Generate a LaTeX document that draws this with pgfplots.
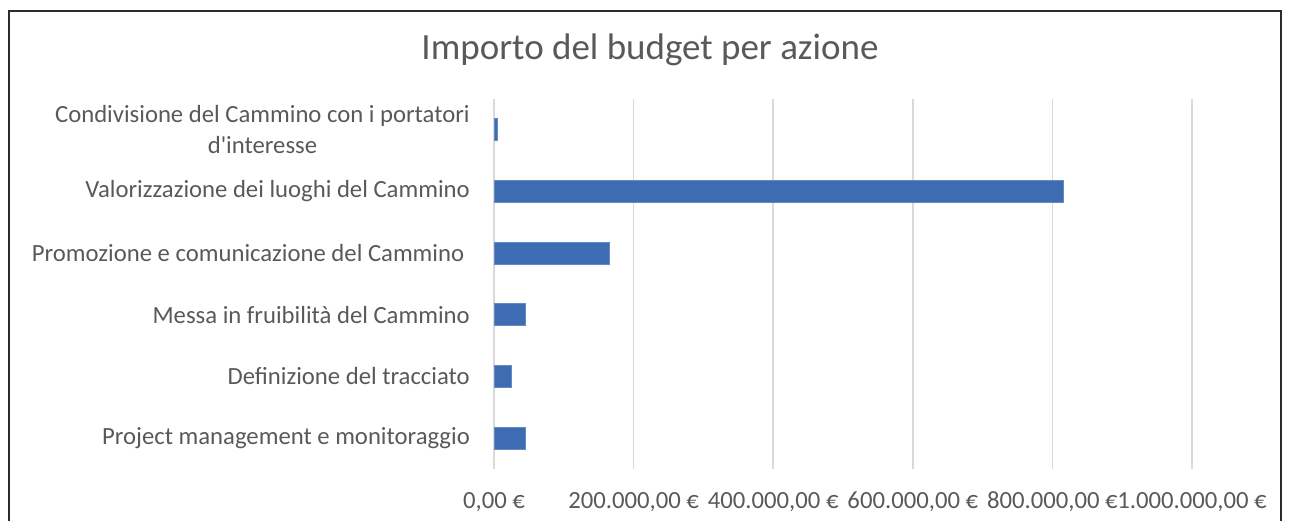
\documentclass[border=0pt]{standalone}
\usepackage{fontspec}
\setmainfont{Carlito}[Ligatures=TeXOff]
\usepackage{pgfplots}
\pgfplotsset{compat=1.18}
\definecolor{txtgray}{HTML}{595959}
\definecolor{gridgray}{HTML}{D9D9D9}
\definecolor{barblue}{RGB}{62,108,179}
\definecolor{frame}{HTML}{2B2B2B}
\begin{document}
\begin{tikzpicture}[x=1pt,y=1pt]
\useasboundingbox (0,0) rectangle (1292,521);
% chart frame (cut at the bottom as in the reference)
\draw[frame, line width=2pt] (9,-20) -- (9,510) -- (1281,510) -- (1281,-20);
\node[anchor=base, text=txtgray, font=\fontsize{37}{44}\selectfont, inner sep=0pt] at (650,461) {Importo del budget per azione};
\begin{axis}[
    at={(494pt,52pt)}, anchor=south west,
    scale only axis,
    width=698pt, height=370pt,
    xbar, bar width=22pt,
    xmin=0, xmax=1000000,
    ymin=-0.5, ymax=5.5,
    axis line style={draw=none},
    major tick length=0pt,
    xmajorgrids,
    grid style={gridgray, line width=1.5pt},
    xtick={0,200000,400000,600000,800000,1000000},
    xticklabels={{0,00 €},{200.000,00 €},{400.000,00 €},{600.000,00 €},{800.000,00 €},{1.000.000,00 €}},
    ytick={0,1,2,3,4,5},
    yticklabels={{Project management e monitoraggio},{Definizione del tracciato},{Messa in fruibilità del Cammino},{Promozione e comunicazione del Cammino\ },{Valorizzazione dei luoghi del Cammino},{Condivisione del Cammino con i portatori\\d'interesse}},
    scaled x ticks=false,
    xticklabel style={anchor=base, yshift=-40pt, inner sep=0pt, text=txtgray, font=\fontsize{24.7}{31}\selectfont},
    yticklabel style={anchor=east, xshift=-24pt, inner sep=0pt, align=center, text=txtgray, font=\fontsize{24.7}{31}\selectfont},
    clip=false,
]
\addplot[fill=barblue, draw=barblue!80!white, line width=0.8pt] coordinates {
    (45400,0) (25300,1) (45400,2) (165600,3) (816000,4) (5000,5)};
\end{axis}
\end{tikzpicture}
\end{document}
